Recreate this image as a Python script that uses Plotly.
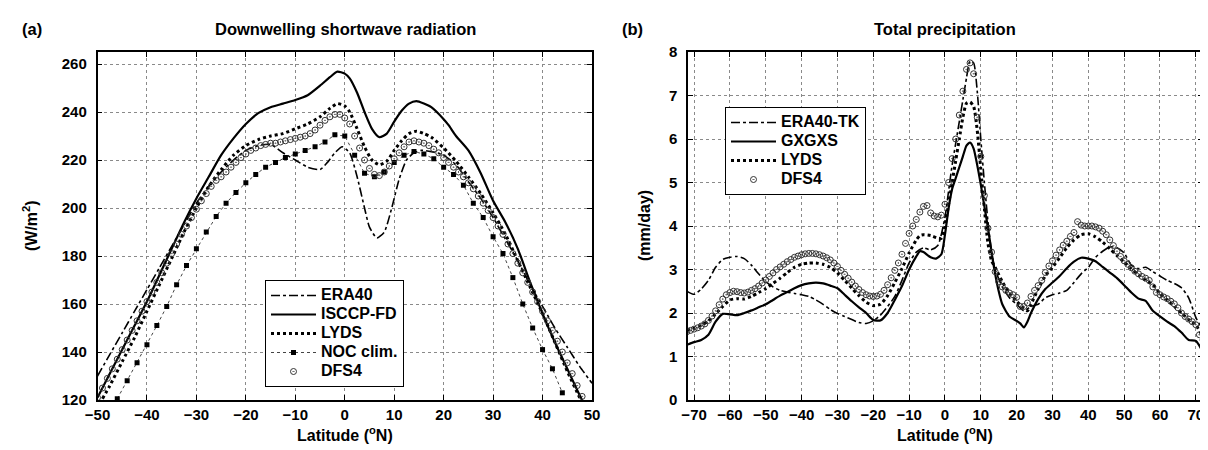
import plotly.graph_objects as go

# ---------------- Panel (a): Downwelling shortwave radiation ----------------
isccp_lat = [-50, -47.5, -45, -42.5, -40, -37.5, -35, -32.5, -30, -27.5, -25, -22.5, -20, -17.5, -15, -12.5,
             -10, -7.5, -5, -3, -1.5, 0, 1, 2.5, 4, 5.5, 7, 8.5, 10, 11.5, 13, 14.5, 16, 17.5, 20, 21, 22.5,
             25, 27.5, 30, 32.5, 35, 37.5, 40, 42.5, 45, 47.5, 48.5]
isccp_val = [121, 131, 141, 151, 161, 172, 183, 194, 204, 213, 222, 229, 235, 239.5, 242, 243.5,
             245, 247, 251, 254.5, 256.8, 256, 254, 248, 240, 233, 229.5, 231, 236, 240.5, 243.5, 244.5, 243.5, 242, 237, 234.5, 230,
             224, 214.5, 203, 194, 183, 169, 156, 144, 133, 122, 118]

era40_lat = [-50, -47.5, -45, -42.5, -40, -37.5, -35, -32.5, -30, -27.5, -25, -22.5, -20, -17.5, -15, -12.5,
             -10, -7.5, -5, -3.5, -2, -0.5, 1, 2.5, 4, 5, 6.5, 8, 9.5, 11, 12.5, 14, 15.5, 17.5, 20, 22.5,
             25, 27.5, 30, 32.5, 35, 37.5, 40, 42.5, 45, 47.5, 50]
era40_val = [130, 139, 148, 157, 166, 175, 184, 193, 202, 209, 215, 220, 224, 226, 226.5, 223,
             220, 217, 216, 219, 223, 225.5, 223, 213, 200, 192, 187.5, 190, 200, 212, 220, 223, 224, 223.5, 222, 218,
             211, 204, 196, 187, 178, 168, 159, 150, 142, 134, 127]

lyds_lat = [-49, -47.5, -45, -42.5, -40, -37.5, -35, -32.5, -30, -27.5, -25, -22.5, -20, -17.5, -15, -12.5,
            -10, -7.5, -5, -3, -1.5, 0, 1, 2.5, 4, 5.5, 7, 8.5, 10, 11.5, 13, 14.5, 16, 17.5, 20, 22.5,
            25, 27.5, 30, 32.5, 35, 37.5, 40, 42.5, 45, 47.5, 48.5]
lyds_val = [120.5, 126, 136, 146, 157, 168, 179, 190, 200, 209, 216, 222, 226, 228.5, 230, 231,
            233, 235, 238, 241.5, 243.5, 242.5, 240, 233, 225.5, 220, 218, 219.5, 224, 228, 231, 232, 231, 229.5, 225, 219.5,
            213, 206, 198, 189, 178, 167, 156, 144, 132, 121, 117]

noc_lat = [-46, -44, -42, -40, -38, -36, -34, -32, -30, -28, -26, -24, -22, -20, -18, -16, -14, -12, -10, -8,
           -6, -4, -2, 0, 2, 4, 6, 8, 10, 12, 14, 16, 18, 20, 22, 24, 26, 28, 30, 32, 34, 36, 38, 40, 42, 44]
noc_val = [120.5, 128, 135.5, 143, 151, 159, 168, 176, 183, 190, 196.5, 202, 206.5, 210.5, 214, 217, 219, 221, 222.5, 224,
           225.5, 227.5, 230.5, 230, 222, 214.5, 213, 215, 219, 222, 223.5, 222.5, 220.5, 217, 214, 209.5, 202, 196, 188, 181,
           171, 160, 150, 141, 133, 123]

dfs4a_lat = list(range(-50, 50))
dfs4a_val = [121, 125, 129, 133, 137, 141, 145, 149, 153, 157,
             161, 165, 169, 173, 177, 181, 185, 189, 192.5, 196,
             199.5, 203, 206, 209, 211.5, 213, 215, 217, 219, 221,
             222.5, 224, 225, 226, 226.5, 227, 227, 227.5, 228, 228.5,
             229, 229.5, 230, 231, 232.5, 234.5, 236.5, 238, 239, 239,
             237.5, 235, 230, 225, 220, 216.5, 214, 213.5, 215, 217.5,
             220.5, 223, 225.5, 227.5, 228, 227.5, 227, 226, 224.5, 223,
             221, 219, 217, 215, 213, 210.5, 208, 205, 202, 199,
             196, 192.5, 189, 185, 181, 177, 173, 169, 165, 161,
             157, 153, 149, 144.5, 140, 135.5, 131, 126, 121.5, 117]

xticks_a = [-50, -40, -30, -20, -10, 0, 10, 20, 30, 40, 50]
yticks_a = [120, 140, 160, 180, 200, 220, 240, 260]

# ---------------- Panel (b): Total precipitation ----------------
era40tk_lat = [-72, -70, -68, -66, -64, -62, -60, -58, -56, -54, -52, -50, -48, -46, -44, -42, -40, -38, -36, -34,
               -32, -30, -28, -26, -24, -22, -20, -18, -16, -14, -12, -10, -8, -6, -4, -2, 0, 1, 2, 3, 4, 5, 6,
               7, 8, 9, 10, 11, 12, 13, 14, 16, 18, 20, 22, 24, 26, 28, 30, 32, 34, 36, 38, 40, 42, 44, 46, 48,
               50, 52, 54, 56, 58, 60, 62, 64, 66, 68, 70, 72]
era40tk_val = [2.5, 2.43, 2.55, 2.75, 3.05, 3.23, 3.28, 3.3, 3.25, 3.1, 2.9, 2.72, 2.6, 2.52, 2.48, 2.45, 2.42, 2.38, 2.3, 2.2,
               2.08, 1.99, 1.92, 1.85, 1.78, 1.76, 1.82, 1.95, 2.15, 2.38, 2.75, 3.15, 3.4, 3.5, 3.45, 3.55, 4.2, 4.8, 5.4, 5.9, 6.4, 6.9, 7.4,
               7.8, 7.75, 7.1, 6.0, 5.0, 4.1, 3.4, 3.0, 2.6, 2.35, 2.2, 2.05, 2.15, 2.2, 2.35, 2.42, 2.46, 2.52, 2.7, 2.9, 3.05, 3.28, 3.42, 3.52, 3.5,
               3.38, 3.1, 3.02, 3.05, 2.95, 2.85, 2.75, 2.68, 2.58, 2.35, 1.9, 1.6]

gxgxs_lat = [-72, -70, -68, -66, -64, -62, -60, -58, -56, -54, -52, -50, -48, -46, -44, -42, -40, -38, -36, -34,
             -32, -30, -28, -26, -24, -22, -20, -18, -16, -14, -12, -10, -8, -7, -6, -4, -2.5, -1, 0, 1, 2, 3, 4,
             5, 6, 7, 8, 9, 10, 11, 12, 13, 14, 15, 16, 18, 20, 21, 22, 23, 24, 26, 28, 30, 32, 34, 36, 38, 40,
             42, 44, 46, 48, 50, 52, 54, 56, 58, 60, 62, 64, 66, 68, 70, 72]
gxgxs_val = [1.27, 1.33, 1.38, 1.5, 1.8, 1.98, 1.97, 1.95, 2.0, 2.06, 2.13, 2.2, 2.3, 2.4, 2.48, 2.57, 2.64, 2.68, 2.7, 2.68,
             2.63, 2.57, 2.42, 2.27, 2.13, 2.0, 1.84, 1.83, 2.0, 2.3, 2.62, 3.0, 3.3, 3.42, 3.4, 3.28, 3.25, 3.35, 3.8, 4.4, 4.85, 5.1, 5.35,
             5.6, 5.85, 5.92, 5.78, 5.4, 4.95, 4.45, 3.96, 3.4, 2.9, 2.5, 2.2, 1.92, 1.82, 1.76, 1.67, 1.8, 2.0, 2.32, 2.55, 2.7, 2.85, 3.03, 3.18, 3.27, 3.25,
             3.19, 3.06, 2.93, 2.8, 2.64, 2.47, 2.33, 2.28, 2.05, 1.92, 1.8, 1.7, 1.55, 1.38, 1.36, 1.1]

lydsb_lat = [-72, -70, -68, -66, -64, -62, -60, -58, -56, -54, -52, -50, -48, -46, -44, -42, -40, -38, -36, -34,
             -32, -30, -28, -26, -24, -22, -20, -18, -16, -14, -12, -10, -8, -7, -6, -4, -2, -1, 0, 1, 2, 3, 4,
             5, 6, 7, 8, 9, 10, 11, 12, 13, 14, 16, 18, 20, 22, 23, 24, 26, 28, 30, 32, 34, 36, 38, 40, 42, 44,
             46, 48, 50, 52, 54, 56, 58, 60, 62, 64, 66, 68, 70, 72]
lydsb_val = [1.6, 1.65, 1.72, 1.82, 1.98, 2.15, 2.3, 2.33, 2.32, 2.38, 2.47, 2.56, 2.68, 2.8, 2.93, 3.05, 3.12, 3.15, 3.15, 3.12,
             3.05, 2.92, 2.75, 2.57, 2.4, 2.25, 2.17, 2.2, 2.4, 2.7, 3.02, 3.38, 3.68, 3.78, 3.8, 3.78, 3.72, 3.72, 4.0, 4.5, 5.0, 5.5, 6.0,
             6.5, 6.82, 6.85, 6.75, 6.2, 5.3, 4.4, 3.6, 3.2, 3.05, 2.72, 2.45, 2.27, 2.1, 2.05, 2.2, 2.55, 2.85, 3.05, 3.27, 3.5, 3.68, 3.8, 3.82, 3.75, 3.63,
             3.48, 3.32, 3.17, 3.02, 2.87, 2.75, 2.65, 2.45, 2.3, 2.15, 2.0, 1.85, 1.72, 1.45]

dfs4b_lat = list(range(-72, 73))
dfs4b_val = [1.57, 1.6, 1.63, 1.66, 1.7, 1.75, 1.83, 1.93, 2.05, 2.19,
             2.32, 2.42, 2.47, 2.5, 2.49, 2.47, 2.46, 2.48, 2.52, 2.56,
             2.62, 2.69, 2.76, 2.84, 2.92, 3.0, 3.06, 3.12, 3.18, 3.23,
             3.28, 3.31, 3.34, 3.36, 3.37, 3.37, 3.36, 3.34, 3.31, 3.27,
             3.22, 3.15, 3.07, 2.98, 2.89, 2.8, 2.71, 2.62, 2.54, 2.47,
             2.42, 2.39, 2.38, 2.39, 2.43, 2.52, 2.65, 2.81, 2.98, 3.15,
             3.35, 3.6, 3.83, 4.0, 4.15, 4.32, 4.45, 4.47, 4.3, 4.23,
             4.21, 4.25, 4.5, 5.0, 5.55, 6.0, 6.55, 7.1, 7.6, 7.75,
             7.5, 6.5, 5.6, 4.7, 3.95, 3.4, 2.95, 2.72, 2.6, 2.52,
             2.46, 2.42, 2.36, 2.15, 2.15, 2.23, 2.38, 2.52, 2.63, 2.75,
             2.93, 3.08, 3.2, 3.33, 3.45, 3.56, 3.65, 3.76, 3.85, 4.1,
             4.02, 4.0, 4.0, 4.0, 3.98, 3.95, 3.88, 3.8, 3.68, 3.55,
             3.42, 3.3, 3.2, 3.12, 3.04, 2.96, 2.9, 2.84, 2.8, 2.75,
             2.6, 2.47, 2.42, 2.37, 2.33, 2.27, 2.21, 2.12, 2.0, 1.92,
             1.86, 1.8, 1.73, 1.5, 1.38]

xticks_b = [-70, -60, -50, -40, -30, -20, -10, 0, 10, 20, 30, 40, 50, 60, 70]
yticks_b = [0, 1, 2, 3, 4, 5, 6, 7, 8]

# ---------------- Figure ----------------
FONT = "Liberation Sans, Arial, sans-serif"
W, H = 1208, 450
fig = go.Figure()


def lg(name):
    # larger legend text while keeping compact row spacing
    return "<span style='font-size:16px'>" + name + "</span>"


def line(x, y, name, xa, ya, leg, dash, width):
    fig.add_trace(go.Scatter(x=x, y=y, name=lg(name), mode="lines", xaxis=xa, yaxis=ya, legend=leg,
                             line=dict(color="black", dash=dash, width=width, shape="spline", smoothing=0.6)))


line(era40_lat, era40_val, "ERA40", "x", "y", "legend", "dashdot", 1.6)
line(isccp_lat, isccp_val, "ISCCP-FD", "x", "y", "legend", "solid", 2.2)
line(lyds_lat, lyds_val, "LYDS", "x", "y", "legend", "dot", 3)
fig.add_trace(go.Scatter(x=noc_lat, y=noc_val, name=lg("NOC clim."), mode="lines+markers", xaxis="x", yaxis="y",
                         legend="legend", line=dict(color="#444", dash="dot", width=1),
                         marker=dict(symbol="square", size=5, color="black")))
fig.add_trace(go.Scatter(x=dfs4a_lat, y=dfs4a_val, name=lg("DFS4"), mode="markers", xaxis="x", yaxis="y",
                         legend="legend",
                         marker=dict(symbol="circle-open-dot", size=6, color="#333", line=dict(width=1, color="#333"))))

line(era40tk_lat, era40tk_val, "ERA40-TK", "x2", "y2", "legend2", "dashdot", 1.6)
line(gxgxs_lat, gxgxs_val, "GXGXS", "x2", "y2", "legend2", "solid", 2.2)
line(lydsb_lat, lydsb_val, "LYDS", "x2", "y2", "legend2", "dot", 3)
fig.add_trace(go.Scatter(x=dfs4b_lat, y=dfs4b_val, name=lg("DFS4"), mode="markers", xaxis="x2", yaxis="y2",
                         legend="legend2",
                         marker=dict(symbol="circle-open-dot", size=6, color="#333", line=dict(width=1, color="#333"))))

ydom = [(H - 392) / H, (H - 44) / H]

axis_common = dict(showline=True, linecolor="black", linewidth=1.5, mirror="ticks", ticks="inside",
                   ticklen=5, tickcolor="black", showgrid=True, gridcolor="#8a8a8a", griddash="dot",
                   gridwidth=1, zeroline=False, tickfont=dict(family=FONT, size=15, color="black", weight="bold"),
                   automargin=False)

leg_common = dict(xanchor="left", yanchor="top", bgcolor="white", bordercolor="black", borderwidth=1,
                  font=dict(family=FONT, size=12, color="black", weight="bold"), tracegroupgap=0, itemwidth=45)

fig.update_layout(
    width=W, height=H, margin=dict(l=0, r=0, t=0, b=0),
    paper_bgcolor="white", plot_bgcolor="white",
    font=dict(family=FONT, color="black"),
    xaxis=dict(domain=[89.5 / W, 584 / W], range=[-50, 50], tickvals=xticks_a, anchor="y", **axis_common),
    yaxis=dict(domain=ydom, range=[120, 265], tickvals=yticks_a, anchor="x", ticklabelstandoff=6, **axis_common),
    xaxis2=dict(domain=[680 / W, 1195 / W], range=[-71.7, 72], tickvals=xticks_b, anchor="y2", **axis_common),
    yaxis2=dict(domain=ydom, range=[0, 8], tickvals=yticks_b, anchor="x2", ticklabelstandoff=6, **axis_common),
    legend=dict(x=257 / W, y=1 - 272 / H, **leg_common),
    legend2=dict(x=717 / W, y=1 - 99 / H, **leg_common),
    showlegend=True,
)

ann_font = dict(family=FONT, size=16.5, color="black", weight="bold")
for txt, xp in [("(a)", 12), ("(b)", 612)]:
    fig.add_annotation(text=txt, x=xp / W, y=1 - 21 / H, xref="paper", yref="paper", xanchor="left",
                       yanchor="middle", showarrow=False, font=ann_font)
for txt, xp in [("Downwelling shortwave radiation", 337), ("Total precipitation", 937)]:
    fig.add_annotation(text=txt, x=xp / W, y=1 - 21 / H, xref="paper", yref="paper", xanchor="center",
                       yanchor="middle", showarrow=False, font=ann_font)

# axis titles
title_font = dict(family=FONT, size=16, color="black", weight="bold")
for xp in [337, 937]:
    fig.add_annotation(text="Latitude (<sup>o</sup>N)", x=xp / W, y=1 - 426 / H, xref="paper", yref="paper",
                       xanchor="center", yanchor="middle", showarrow=False, font=title_font)
fig.add_annotation(text="(W/m<sup>2</sup>)", x=22 / W, y=1 - 218 / H, xref="paper", yref="paper",
                   xanchor="center", yanchor="middle", textangle=-90, showarrow=False, font=title_font)
fig.add_annotation(text="(mm/day)", x=636 / W, y=1 - 218 / H, xref="paper", yref="paper",
                   xanchor="center", yanchor="middle", textangle=-90, showarrow=False, font=title_font)

fig.write_html("out.html")
